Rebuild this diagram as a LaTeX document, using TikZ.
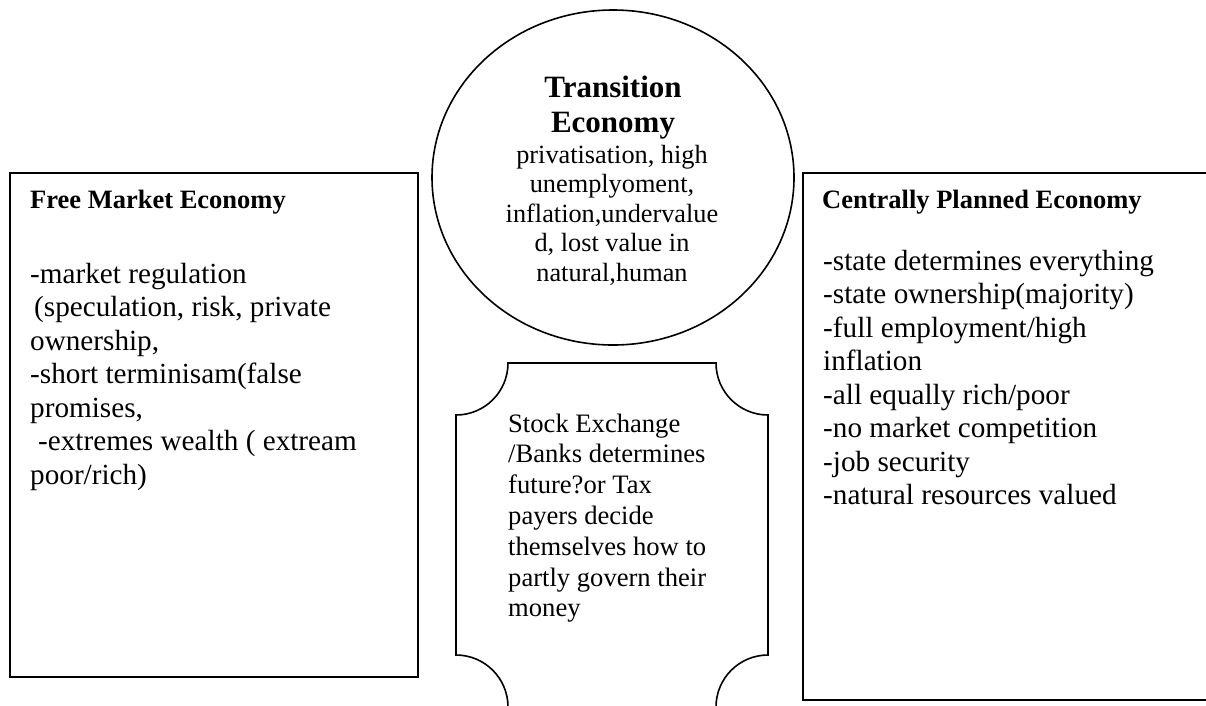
\documentclass[tikz,border=0pt]{standalone}
\usepackage{fontspec}
\setmainfont{Liberation Serif}
\usetikzlibrary{shapes.geometric}
\begin{document}
\begin{tikzpicture}[x=1pt,y=-1pt,
  boxframe/.style={draw=black, line width=2pt, rectangle, inner sep=0pt, anchor=north west},
  outline/.style={draw=black, line width=1.6pt},
  sidebody/.style={anchor=base west, inner sep=0pt, font=\fontsize{29.2}{33.5}\selectfont},
  sidehead/.style={anchor=base west, inner sep=0pt, font=\bfseries\fontsize{26.5}{30}\selectfont},
  ttl/.style={anchor=base, inner sep=0pt, font=\bfseries\fontsize{31}{31}\selectfont},
  cbody/.style={anchor=base, inner sep=0pt, font=\fontsize{26.3}{29}\selectfont},
  pbody/.style={anchor=base west, inner sep=0pt, font=\fontsize{26.6}{30.8}\selectfont}]
\path[use as bounding box] (0,0) rectangle (1206,705);
\fill[white] (0,0) rectangle (1206,705);
\begin{scope}
\clip (0,0) rectangle (1206,705);
% left box
\node[boxframe, minimum width=408pt, minimum height=504pt] (free) at (9,172) {};
\node[sidehead] (freehead) at (30,208) {Free Market Economy};
\foreach \t [count=\i] in {{-market regulation},{\hspace{4pt}(speculation, risk, private},{ownership,},{-short terminisam(false},{promises,},{\hspace{8pt}-extremes wealth ( extream},{poor/rich)}}
  \node[sidebody] (fm\i) at (30,{283+33.5*(\i-1)}) {\t};
% right box
\node[boxframe, minimum width=420pt, minimum height=527pt] (plan) at (802,172) {};
\node[sidehead] (planhead) at (822,208) {Centrally Planned Economy};
\foreach \t [count=\i] in {{-state determines everything},{-state ownership(majority)},{-full employment/high},{inflation},{-all equally rich/poor},{-no market competition},{-job security},{-natural resources valued}}
  \node[sidebody] (cp\i) at (823,{270+33.5*(\i-1)}) {\t};
% circle
\node[outline, ellipse, minimum width=362pt, minimum height=335pt, inner sep=0pt] (trans) at (613,177.5) {};
\node[ttl] (tt1) at (613,97) {Transition};
\node[ttl] (tt2) at (613,132) {Economy};
\foreach \t [count=\i] in {{privatisation, high},{unemplyoment,},{inflation,undervalue},{d, lost value in},{natural,human}}
  \node[cbody] (tr\i) at (612,{163+29.5*(\i-1)}) {\t};
% plaque
\draw[outline] (508,363) -- (716,363)
  arc[start angle=180, end angle=270, radius=52pt] -- (768,655)
  arc[start angle=90, end angle=180, radius=52pt] -- (508,707)
  arc[start angle=0, end angle=90, radius=52pt] -- (456,415)
  arc[start angle=270, end angle=360, radius=52pt] -- cycle;
\foreach \t [count=\i] in {{Stock Exchange},{/Banks determines},{future?or Tax},{payers decide},{themselves how to},{partly govern their},{money}}
  \node[pbody] (se\i) at (508,{432+30.8*(\i-1)}) {\t};
\end{scope}
\end{tikzpicture}
\end{document}
